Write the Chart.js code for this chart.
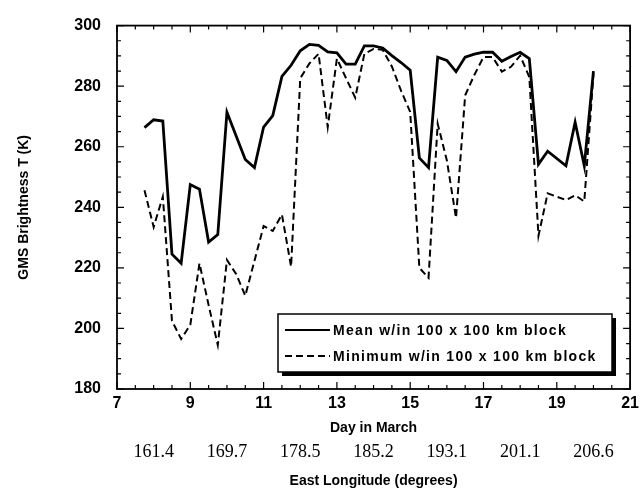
<!DOCTYPE html>
<html>
<head>
<meta charset="utf-8">
<script src="https://cdn.jsdelivr.net/npm/chart.js@4.4.1/dist/chart.umd.min.js"></script>
<style>
  html, body { margin: 0; padding: 0; background: #fff; }
  #wrap { width: 644px; height: 491px; }
</style>
</head>
<body>
<div id="wrap"><canvas id="chart" width="644" height="491"></canvas></div>
<script>
// GMS brightness temperature, mean and minimum inside 100 x 100 km block
const meanDays = [7.75, 8.0, 8.25, 8.5, 8.75, 9.0, 9.25, 9.5, 9.75, 10.0, 10.5, 10.75, 11.0, 11.25, 11.5, 11.75,
  12.0, 12.25, 12.5, 12.75, 13.0, 13.25, 13.5, 13.75, 14.0, 14.25, 14.5, 14.75, 15.0, 15.25, 15.5, 15.75,
  16.0, 16.25, 16.5, 16.75, 17.0, 17.25, 17.5, 17.75, 18.0, 18.25, 18.5, 18.75, 19.25, 19.5, 19.75, 20.0];
const meanTemps = [266.3, 268.9, 268.5, 224.5, 221.5, 247.5, 246.0, 228.5, 231.0, 271.4, 255.8, 253.1, 266.5, 270.3, 283.2, 286.9,
  291.7, 293.8, 293.5, 291.3, 291.0, 287.3, 287.3, 293.3, 293.3, 292.6, 290.1, 287.8, 285.3, 256.3, 253.1, 289.6,
  288.5, 284.8, 289.6, 290.6, 291.2, 291.2, 288.2, 289.8, 291.2, 289.1, 254.2, 258.5, 253.7, 268.1, 253.7, 285.0];

const minDays = [7.75, 8.0, 8.25, 8.5, 8.75, 9.0, 9.25, 9.5, 9.75, 10.0, 10.25, 10.5, 11.0, 11.25, 11.5, 11.75,
  12.0, 12.25, 12.5, 12.75, 13.0, 13.25, 13.5, 13.75, 14.0, 14.25, 14.5, 14.75, 15.0, 15.25, 15.5, 15.75,
  16.0, 16.25, 16.5, 16.75, 17.0, 17.25, 17.5, 17.75, 18.0, 18.25, 18.5, 18.75, 19.0, 19.25, 19.5, 19.75, 20.0];
const minTemps = [245.6, 233.5, 243.5, 202.5, 196.5, 201.2, 221.5, 207.7, 194.5, 222.6, 218.0, 210.8, 233.8, 232.2, 237.6, 220.4,
  282.6, 287.5, 290.7, 266.5, 289.1, 282.6, 276.2, 290.7, 292.3, 292.0, 286.5, 278.5, 271.5, 220.0, 216.7, 267.6,
  255.5, 236.5, 277.0, 283.7, 289.6, 289.6, 284.8, 286.4, 290.1, 283.0, 230.6, 244.6, 243.5, 242.4, 244.0, 241.9, 284.0];

const seriesNames = ['Mean w/in 100 x 100 km block', 'Minimum w/in 100 x 100 km block'];
const dayTicks = [7, 9, 11, 13, 15, 17, 19, 21];
const tempTicks = [180, 200, 220, 240, 260, 280, 300];
const lonDays = [8, 10, 12, 14, 16, 18, 20];
const lonLabels = ['161.4', '169.7', '178.5', '185.2', '193.1', '201.1', '206.6'];

const sans = 'Liberation Sans';
const serif = 'Liberation Serif';

function toPoints(xs, ys) {
  return xs.map((d, i) => ({ x: d, y: ys[i] }));
}

// box round the plot with ticks pointing inwards on all four sides
const framePlugin = {
  id: 'frame',
  beforeInit(chart) {
    chart.ctx.letterSpacing = '1.2px';
  },
  afterDatasetsDraw(chart) {
    const { ctx, chartArea: a, scales: { x, y } } = chart;
    ctx.save();
    ctx.strokeStyle = '#000';
    ctx.lineWidth = 1.2;
    ctx.beginPath();
    for (let d = x.min; d <= x.max; d += 0.5) {
      const px = x.getPixelForValue(d);
      const len = (d - x.min) % 2 === 0 ? 7 : 4;
      ctx.moveTo(px, a.bottom); ctx.lineTo(px, a.bottom - len);
      ctx.moveTo(px, a.top); ctx.lineTo(px, a.top + len);
    }
    for (let t = y.min; t <= y.max; t += 5) {
      const py = y.getPixelForValue(t);
      const len = (t - y.min) % 20 === 0 ? 7 : 4;
      ctx.moveTo(a.left, py); ctx.lineTo(a.left + len, py);
      ctx.moveTo(a.right, py); ctx.lineTo(a.right - len, py);
    }
    ctx.stroke();
    ctx.lineWidth = 1.8;
    ctx.strokeRect(a.left, a.top, a.right - a.left, a.bottom - a.top);
    ctx.restore();
  }
};

// boxed legend with a drop shadow, bottom right of the plot
const boxLegend = {
  id: 'boxLegend',
  afterDraw(chart) {
    const { ctx, chartArea: a } = chart;
    const w = 334, h = 58;
    const left = a.left + 161;
    const top = a.bottom - 75;
    ctx.save();
    ctx.fillStyle = '#000';
    ctx.fillRect(left + 4, top + 4, w, h);
    ctx.fillStyle = '#fff';
    ctx.fillRect(left, top, w, h);
    ctx.strokeStyle = '#000';
    ctx.lineWidth = 1.5;
    ctx.strokeRect(left, top, w, h);
    chart.data.datasets.forEach((ds, i) => {
      const ly = top + 16 + i * 26;
      ctx.beginPath();
      ctx.lineWidth = Math.min(ds.borderWidth, 2);
      ctx.setLineDash(ds.borderDash || []);
      ctx.moveTo(left + 7, ly);
      ctx.lineTo(left + 52, ly);
      ctx.stroke();
      ctx.setLineDash([]);
      ctx.fillStyle = '#000';
      ctx.font = 'bold 14px "' + sans + '"';
      ctx.letterSpacing = '1.3px';
      ctx.textBaseline = 'middle';
      ctx.textAlign = 'left';
      ctx.fillText(ds.label, left + 55, ly + 1);
    });
    ctx.restore();
  }
};

new Chart(document.getElementById('chart'), {
  type: 'line',
  data: {
    datasets: [
      {
        label: seriesNames[0],
        data: toPoints(meanDays, meanTemps),
        borderColor: '#000',
        borderWidth: 2.8,
        pointRadius: 0,
        fill: false,
        tension: 0
      },
      {
        label: seriesNames[1],
        data: toPoints(minDays, minTemps),
        borderColor: '#000',
        borderWidth: 2,
        borderDash: [7, 4],
        pointRadius: 0,
        fill: false,
        tension: 0
      }
    ]
  },
  options: {
    responsive: false,
    animation: false,
    devicePixelRatio: 1,
    layout: { padding: { top: 16, right: 9, left: 0, bottom: 0 } },
    plugins: {
      legend: { display: false },
      tooltip: { enabled: false }
    },
    scales: {
      x: {
        type: 'linear',
        position: 'bottom',
        min: 7,
        max: 21,
        afterBuildTicks: s => { s.ticks = dayTicks.map(v => ({ value: v })); },
        ticks: {
          color: '#000',
          font: { family: sans, size: 16, weight: 'bold' },
          padding: 5,
          autoSkip: false,
          maxRotation: 0
        },
        grid: { display: false, drawTicks: false },
        border: { display: false },
        title: {
          display: true,
          text: 'Day in March',
          color: '#000',
          font: { family: sans, size: 14, weight: 'bold' },
          padding: { top: 0, bottom: 2 }
        },
        afterFit: s => { s.height = 50; }
      },
      x2: {
        type: 'linear',
        position: 'bottom',
        min: 7,
        max: 21,
        afterBuildTicks: s => { s.ticks = lonDays.map(v => ({ value: v })); },
        ticks: {
          color: '#000',
          callback: (v, i) => lonLabels[i],
          font: { family: serif, size: 18 },
          padding: 2,
          autoSkip: false,
          maxRotation: 0
        },
        grid: { display: false, drawTicks: false },
        border: { display: false },
        title: {
          display: true,
          text: 'East Longitude (degrees)',
          color: '#000',
          font: { family: sans, size: 14, weight: 'bold' },
          padding: { top: 0, bottom: 1 }
        },
        afterFit: s => { s.height = 52; }
      },
      y: {
        type: 'linear',
        min: 180,
        max: 300,
        afterBuildTicks: s => { s.ticks = tempTicks.map(v => ({ value: v })); },
        ticks: {
          color: '#000',
          font: { family: sans, size: 16, weight: 'bold' },
          padding: 16
        },
        grid: { display: false, drawTicks: false },
        border: { display: false },
        title: {
          display: true,
          text: 'GMS Brightness T (K)',
          color: '#000',
          font: { family: sans, size: 14, weight: 'bold' },
          padding: { top: 16, bottom: 0 }
        },
        afterFit: s => { s.width = 117; }
      }
    }
  },
  plugins: [framePlugin, boxLegend]
});
</script>
</body>
</html>
